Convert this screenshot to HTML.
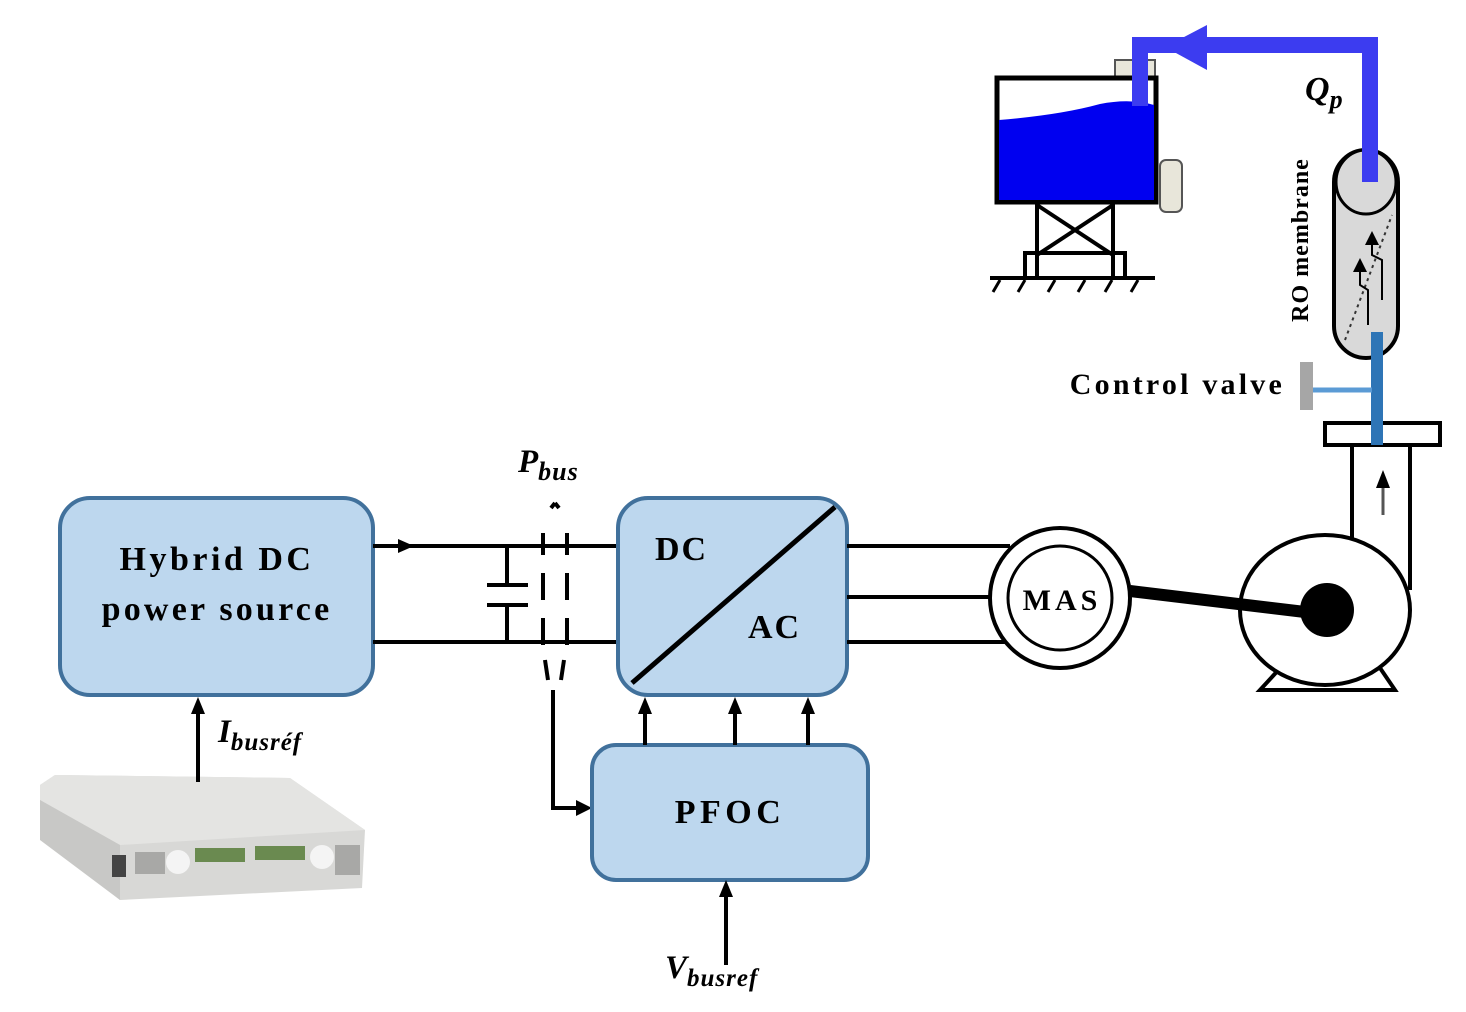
<!DOCTYPE html>
<html><head><meta charset="utf-8"><style>
html,body{margin:0;padding:0;background:#fff;}
svg{display:block;font-family:"Liberation Serif",serif;}
</style></head><body>
<svg width="1466" height="1012" viewBox="0 0 1466 1012">
<!-- Power supply device -->
<polygon points="40,785 55,775 290,778 365,830 362,888 120,900 40,835" fill="#d8d8d6"/>
<polygon points="40,785 55,775 290,778 365,830 120,845 40,800" fill="#e4e4e2"/>
<polygon points="40,800 120,845 120,900 40,840" fill="#c8c8c6"/>
<rect x="112" y="855" width="14" height="22" fill="#444"/>
<rect x="195" y="848" width="50" height="14" fill="#6a8a50"/>
<rect x="255" y="846" width="50" height="14" fill="#6a8a50"/>
<circle cx="178" cy="862" r="12" fill="#f4f4f4"/>
<circle cx="322" cy="857" r="12" fill="#f4f4f4"/>
<rect x="135" y="852" width="30" height="22" fill="#a8a8a6"/>
<rect x="335" y="845" width="25" height="30" fill="#a8a8a6"/>
<!-- Hybrid box -->
<rect x="60" y="498" width="313" height="197" rx="30" fill="#bdd7ee" stroke="#41719c" stroke-width="4"/>
<text x="217" y="570" text-anchor="middle" font-size="34" font-weight="bold" letter-spacing="3.5">Hybrid DC</text>
<text x="217" y="620" text-anchor="middle" font-size="34" font-weight="bold" letter-spacing="3.2">power source</text>
<!-- DC bus lines -->
<line x1="373" y1="546" x2="618" y2="546" stroke="#000" stroke-width="4"/>
<line x1="373" y1="642" x2="618" y2="642" stroke="#000" stroke-width="4"/>
<path d="M398,539 L414,546 L398,553 Z" fill="#000"/>
<line x1="507" y1="546" x2="507" y2="585" stroke="#000" stroke-width="4"/>
<line x1="487" y1="585" x2="528" y2="585" stroke="#000" stroke-width="4"/>
<line x1="487" y1="605" x2="528" y2="605" stroke="#000" stroke-width="4"/>
<line x1="507" y1="605" x2="507" y2="642" stroke="#000" stroke-width="4"/>
<g stroke="#000" stroke-width="4">
<line x1="543" y1="533" x2="543" y2="555"/><line x1="567" y1="533" x2="567" y2="555"/>
<line x1="543" y1="573" x2="543" y2="600"/><line x1="567" y1="573" x2="567" y2="600"/>
<line x1="543" y1="618" x2="543" y2="645"/><line x1="567" y1="618" x2="567" y2="645"/>
<line x1="545" y1="660" x2="548" y2="680"/><line x1="564" y1="660" x2="561" y2="680"/>
<line x1="551" y1="508" x2="555" y2="503"/><line x1="559" y1="508" x2="555" y2="503"/>
</g>
<text x="518" y="472" font-size="33" font-style="italic" font-weight="bold">P<tspan font-size="26" dy="8" letter-spacing="1">bus</tspan></text>
<!-- feedback to PFOC -->
<polyline points="553,690 553,808 582,808" fill="none" stroke="#000" stroke-width="4"/>
<path d="M576,800 L592,808 L576,816 Z" fill="#000"/>
<!-- DC/AC box -->
<rect x="618" y="498" width="229" height="197" rx="30" fill="#bdd7ee" stroke="#41719c" stroke-width="4"/>
<line x1="632" y1="683" x2="835" y2="507" stroke="#000" stroke-width="5"/>
<text x="655" y="560" font-size="34" font-weight="bold" letter-spacing="2">DC</text>
<text x="748" y="638" font-size="34" font-weight="bold" letter-spacing="2">AC</text>
<!-- PFOC -->
<rect x="592" y="745" width="276" height="135" rx="24" fill="#bdd7ee" stroke="#41719c" stroke-width="4"/>
<text x="730" y="823" text-anchor="middle" font-size="34" font-weight="bold" letter-spacing="4.5">PFOC</text>
<g stroke="#000" stroke-width="4">
<line x1="645" y1="745" x2="645" y2="712"/><line x1="735" y1="745" x2="735" y2="712"/><line x1="808" y1="745" x2="808" y2="712"/>
<line x1="726" y1="965" x2="726" y2="895"/>
<line x1="198" y1="782" x2="198" y2="712"/>
</g>
<g fill="#000">
<path d="M638,714 L645,697 L652,714 Z"/><path d="M728,714 L735,697 L742,714 Z"/><path d="M801,714 L808,697 L815,714 Z"/>
<path d="M719,897 L726,880 L733,897 Z"/><path d="M191,714 L198,697 L205,714 Z"/>
</g>
<text x="665" y="978" font-size="33" font-style="italic" font-weight="bold">V<tspan font-size="25" dy="8" letter-spacing="1">busref</tspan></text>
<text x="218" y="742" font-size="33" font-style="italic" font-weight="bold">I<tspan font-size="25" dy="8" letter-spacing="1">busréf</tspan></text>
<!-- AC lines to MAS -->
<g stroke="#000" stroke-width="4">
<line x1="847" y1="546" x2="1010" y2="546"/><line x1="847" y1="597" x2="1000" y2="597"/><line x1="847" y1="642" x2="1010" y2="642"/>
</g>
<circle cx="1060" cy="598" r="70" fill="#fff" stroke="#000" stroke-width="4"/>
<circle cx="1060" cy="598" r="52" fill="#fff" stroke="#000" stroke-width="3"/>
<text x="1062" y="610" text-anchor="middle" font-size="30" font-weight="bold" letter-spacing="4">MAS</text>
<!-- pump -->
<line x1="1352" y1="445" x2="1352" y2="540" stroke="#000" stroke-width="4"/>
<line x1="1410" y1="445" x2="1410" y2="590" stroke="#000" stroke-width="4"/>
<polygon points="1283,665 1260,690 1395,690 1378,665" fill="#fff" stroke="#000" stroke-width="4"/>
<ellipse cx="1325" cy="610" rx="85" ry="75" fill="#fff" stroke="#000" stroke-width="4"/>
<line x1="1130" y1="591" x2="1305" y2="612" stroke="#000" stroke-width="12"/>
<circle cx="1327" cy="610" r="27" fill="#000"/>
<rect x="1325" y="423" width="115" height="22" fill="#fff" stroke="#000" stroke-width="4"/>
<line x1="1383" y1="515" x2="1383" y2="485" stroke="#555" stroke-width="3"/>
<path d="M1376,488 L1383,470 L1390,488 Z" fill="#000"/>
<!-- RO membrane -->
<rect x="1334" y="150" width="64" height="208" rx="32" fill="#d9d9d9" stroke="#000" stroke-width="4"/>
<ellipse cx="1366" cy="182" rx="30" ry="32" fill="#d9d9d9" stroke="#000" stroke-width="3"/>
<line x1="1345" y1="340" x2="1392" y2="215" stroke="#333" stroke-width="2" stroke-dasharray="3,4"/>
<g stroke="#000" stroke-width="2" fill="none">
<polyline points="1368,325 1368,290 1360,285 1360,270"/><polyline points="1382,300 1382,260 1372,255 1372,240"/>
</g>
<path d="M1353,272 L1360,258 L1367,272 Z" fill="#000"/><path d="M1365,245 L1372,231 L1379,245 Z" fill="#000"/>
<text transform="translate(1308,240) rotate(-90)" text-anchor="middle" font-size="24" font-weight="bold" letter-spacing="1">RO membrane</text>
<!-- blue pipe & valve -->
<rect x="1371" y="332" width="12" height="113" fill="#2e75b6"/>
<line x1="1313" y1="390" x2="1372" y2="390" stroke="#5b9bd5" stroke-width="5"/>
<rect x="1300" y="362" width="13" height="48" fill="#a6a6a6"/>
<text x="1285" y="394" text-anchor="end" font-size="30" font-weight="bold" letter-spacing="3.2">Control valve</text>
<!-- tank -->
<g stroke="#000" stroke-width="4" fill="none">
<line x1="1037" y1="202" x2="1037" y2="278"/><line x1="1113" y1="202" x2="1113" y2="278"/>
<line x1="1037" y1="205" x2="1113" y2="255"/><line x1="1113" y1="205" x2="1037" y2="255"/>
<rect x="1025" y="253" width="100" height="25"/>
<line x1="990" y1="278" x2="1155" y2="278"/>
</g>
<g stroke="#000" stroke-width="3">
<line x1="1000" y1="280" x2="993" y2="292"/><line x1="1025" y1="280" x2="1018" y2="292"/><line x1="1055" y1="280" x2="1048" y2="292"/><line x1="1085" y1="280" x2="1078" y2="292"/><line x1="1112" y1="280" x2="1105" y2="292"/><line x1="1138" y1="280" x2="1131" y2="292"/>
</g>
<rect x="1115" y="60" width="40" height="20" fill="#e8e6da" stroke="#555" stroke-width="2"/>
<rect x="1160" y="160" width="22" height="52" rx="6" fill="#e8e6da" stroke="#555" stroke-width="2"/>
<rect x="997" y="78" width="159" height="124" fill="#fff" stroke="#000" stroke-width="5"/>
<path d="M999,120 Q1060,115 1100,104 Q1130,98 1154,105 L1154,200 L999,200 Z" fill="#0000f0"/>
<!-- purple pipe -->
<polyline points="1370,182 1370,45 1140,45 1140,106" fill="none" stroke="#3c3cf0" stroke-width="16"/>
<path d="M1207,25 L1207,70 L1165,47 Z" fill="#3c3cf0"/>
<text x="1305" y="100" font-size="34" font-style="italic" font-weight="bold">Q<tspan font-size="26" dy="8">p</tspan></text>
</svg>
</body></html>
